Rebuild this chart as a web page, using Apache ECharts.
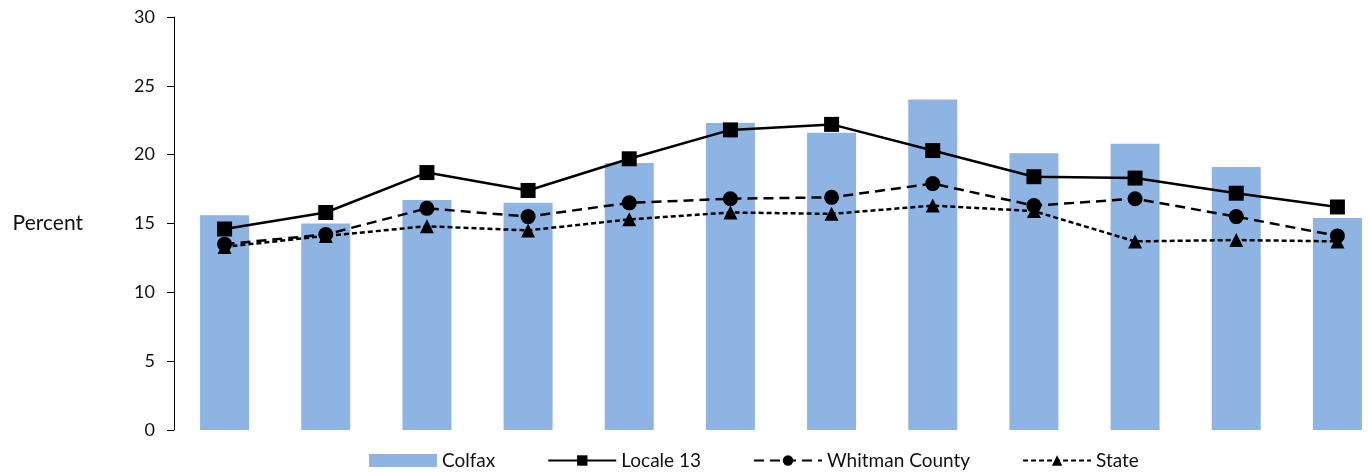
<!DOCTYPE html>
<html>
<head>
<meta charset="utf-8">
<script src="https://cdn.jsdelivr.net/npm/echarts@6/dist/echarts.min.js"></script>
<style>html,body{margin:0;padding:0;background:#fff;overflow:hidden}#c{width:1390px;height:473px}</style>
</head>
<body>
<div id="c"></div>
<script>
const categories = ['1','2','3','4','5','6','7','8','9','10','11','12'];
const colfax   = [15.6, 15.0, 16.7, 16.5, 19.4, 22.3, 21.6, 24.0, 20.1, 20.8, 19.1, 15.4];
const locale13 = [14.6, 15.8, 18.7, 17.4, 19.7, 21.8, 22.2, 20.3, 18.4, 18.3, 17.2, 16.2];
const whitman  = [13.5, 14.2, 16.1, 15.5, 16.5, 16.8, 16.9, 17.9, 16.3, 16.8, 15.5, 14.1];
const stateV   = [13.3, 14.1, 14.8, 14.5, 15.3, 15.8, 15.7, 16.3, 15.9, 13.7, 13.8, 13.7];
const yTicks   = [0, 5, 10, 15, 20, 25, 30];

const font = 'Lato, "Liberation Sans", sans-serif';
const chart = echarts.init(document.getElementById('c'), null, {renderer: 'canvas'});
chart.setOption({
  animation: false,
  textStyle: {fontFamily: font},
  grid: {left: 174, top: 17, width: 1214, bottom: 43, containLabel: false},
  legend: {
    left: 364, top: 446, itemWidth: 68, itemHeight: 13, itemGap: 52,
    textStyle: {fontFamily: font, fontSize: 19, color: '#111'},
    data: [
      {name: 'Colfax', icon: 'rect'},
      {name: 'Locale 13'},
      {name: 'Whitman County'},
      {name: 'State'}
    ]
  },
  xAxis: {
    type: 'category', data: categories,
    axisLine: {show: false}, axisTick: {show: false}, axisLabel: {show: false}
  },
  yAxis: {
    type: 'value', min: yTicks[0], max: yTicks[yTicks.length - 1], interval: 5,
    name: 'Percent', nameLocation: 'middle', nameRotate: 0, nameGap: 91,
    nameTextStyle: {fontFamily: font, fontSize: 21, color: '#111'},
    axisLine: {show: true, lineStyle: {color: '#000', width: 1}},
    axisTick: {show: true, length: 7, lineStyle: {color: '#000'}},
    axisLabel: {margin: 19, fontSize: 18, color: '#111', fontFamily: font},
    splitLine: {show: false}
  },
  series: [
    {name: 'Colfax', type: 'bar', data: colfax, barWidth: 49,
     itemStyle: {color: '#8EB4E3'}},
    {name: 'Locale 13', type: 'line', data: locale13, symbol: 'rect', symbolSize: 15,
     lineStyle: {color: '#000', width: 2.5, type: 'solid'},
     itemStyle: {color: '#000'}},
    {name: 'Whitman County', type: 'line', data: whitman, symbol: 'circle', symbolSize: 15,
     lineStyle: {color: '#000', width: 2.5, type: [10, 6]},
     itemStyle: {color: '#000'}},
    {name: 'State', type: 'line', data: stateV, symbol: 'triangle', symbolSize: 14,
     lineStyle: {color: '#000', width: 2.5, type: [5, 3]},
     itemStyle: {color: '#000'}}
  ]
});
</script>
</body>
</html>
